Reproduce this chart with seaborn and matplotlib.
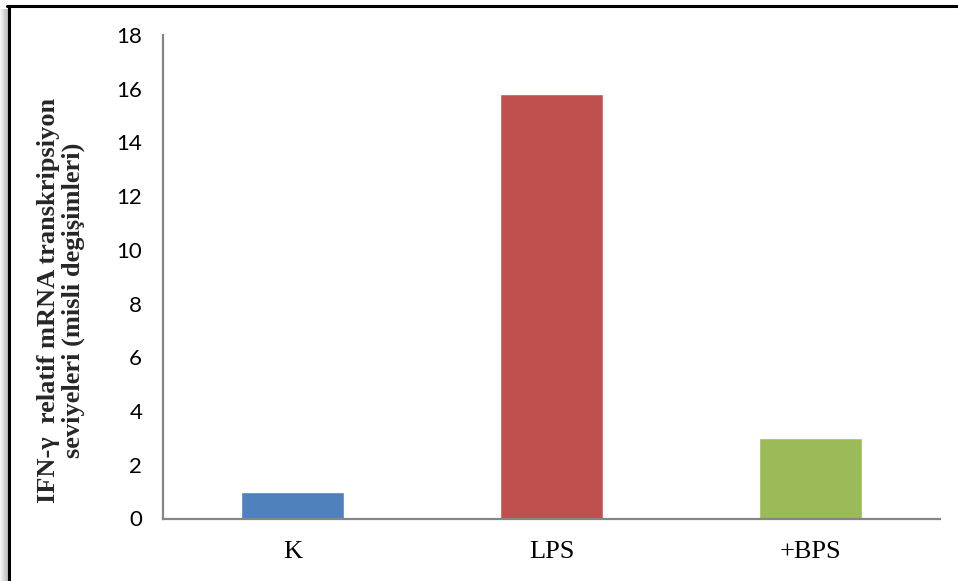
import numpy as np
import pandas as pd
import matplotlib
matplotlib.use("Agg")
import matplotlib.pyplot as plt
from matplotlib.lines import Line2D
import seaborn as sns

# Data
groups = ["K", "LPS", "+BPS"]
fold_change = [1.0, 15.8, 3.0]
bar_colors = ["#4F81BD", "#C0504D", "#9BBB59"]
y_ticks = [0, 2, 4, 6, 8, 10, 12, 14, 16, 18]

df = pd.DataFrame({"grup": groups, "deger": fold_change})

sns.set_style("white")
W, H = 958, 581
fig = plt.figure(figsize=(W / 100, H / 100), dpi=100)

ax = fig.add_axes([163 / W, (H - 518.5) / H, 777 / W, (518.5 - 35) / H])
sns.barplot(data=df, x="grup", y="deger", hue="grup", palette=bar_colors,
            width=0.4, legend=False, ax=ax, saturation=1)

axis_gray = "#868686"
ax.set_xlim(-0.5, 2.5)
ax.set_ylim(0, 18)
ax.set_yticks(y_ticks)
ax.set_yticklabels([str(v) for v in y_ticks], fontfamily="Lato", fontsize=16)
ax.set_xticks(range(len(groups)))
ax.set_xticklabels(groups, fontfamily="Liberation Serif", fontsize=19)
ax.set_xticks(np.arange(-0.5, len(groups), 1.0), minor=True)
ax.tick_params(axis="x", which="major", length=0, pad=16, colors="black")
ax.tick_params(axis="x", which="minor", length=7, width=1.3, color=axis_gray,
               direction="out")
ax.tick_params(axis="y", length=7, width=1.3, color=axis_gray, direction="out",
               pad=8, labelcolor="black")
for side in ("top", "right"):
    ax.spines[side].set_visible(False)
for side in ("left", "bottom"):
    ax.spines[side].set_color(axis_gray)
    ax.spines[side].set_linewidth(1.6)
ax.set_xlabel("")
ax.set_ylabel("")

fig.text(61 / W, (H - 300) / H,
         "IFN-\u03b3  relatif mRNA transkripsiyon\nseviyeleri (misli degi\u015fimleri)",
         rotation=90, ha="center", va="center", fontfamily="Liberation Serif",
         fontweight="bold", fontsize=19, linespacing=1.05, multialignment="center")

# Outer frame with soft shadow on the left
sh = fig.add_axes([0, 0, 8 / W, (H - 9) / H])
grad = np.linspace(0.97, 0.72, 64).reshape(1, -1)
sh.imshow(grad, cmap="gray", vmin=0, vmax=1, aspect="auto",
          extent=[0, 1, 0, 1])
sh.axis("off")
fig.add_artist(Line2D([8.5 / W, 8.5 / W], [0, (H - 5.5) / H],
                      color="black", lw=2.2, transform=fig.transFigure))
fig.add_artist(Line2D([7.4 / W, 1], [(H - 5.5) / H, (H - 5.5) / H],
                      color="black", lw=2.2, transform=fig.transFigure))

fig.savefig("out.png", dpi=100)
